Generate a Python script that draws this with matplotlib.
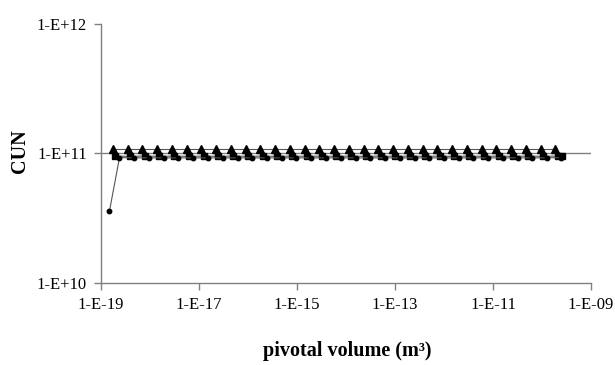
import matplotlib
matplotlib.use('Agg')
import matplotlib.pyplot as plt
from matplotlib import ticker

# pivotal volume [m3] for each series
vol_tri = [1.75e-19, 3.5e-19, 7.0e-19, 1.4e-18, 2.8e-18, 5.6e-18, 1.12e-17, 2.24e-17,
           4.48e-17, 8.96e-17, 1.79e-16, 3.58e-16, 7.17e-16, 1.43e-15, 2.87e-15, 5.73e-15,
           1.15e-14, 2.29e-14, 4.59e-14, 9.17e-14, 1.83e-13, 3.67e-13, 7.34e-13, 1.47e-12,
           2.94e-12, 5.87e-12, 1.17e-11, 2.35e-11, 4.70e-11, 9.40e-11, 1.88e-10]
vol_sq = [1.95e-19, 3.9e-19, 7.8e-19, 1.56e-18, 3.1e-18, 6.2e-18, 1.25e-17, 2.5e-17,
          5.0e-17, 1.0e-16, 2.0e-16, 4.0e-16, 8.0e-16, 1.6e-15, 3.2e-15, 6.4e-15,
          1.28e-14, 2.56e-14, 5.1e-14, 1.02e-13, 2.05e-13, 4.1e-13, 8.2e-13, 1.64e-12,
          3.3e-12, 6.6e-12, 1.31e-11, 2.62e-11, 5.2e-11, 1.05e-10, 2.1e-10, 2.55e-10]
vol_ci = [1.5e-19, 2.4e-19, 4.8e-19, 9.6e-19, 1.9e-18, 3.8e-18, 7.7e-18, 1.54e-17,
          3.1e-17, 6.2e-17, 1.23e-16, 2.46e-16, 4.9e-16, 9.8e-16, 1.97e-15, 3.9e-15,
          7.9e-15, 1.58e-14, 3.15e-14, 6.3e-14, 1.26e-13, 2.52e-13, 5.0e-13, 1.0e-12,
          2.0e-12, 4.0e-12, 8.1e-12, 1.61e-11, 3.2e-11, 6.4e-11, 1.29e-10, 2.4e-10]

# CUN values
cun_tri = [1.08e11] * 31
cun_sq = [0.955e11, 0.95e11, 0.955e11, 0.95e11, 0.955e11, 0.95e11, 0.955e11, 0.95e11,
          0.955e11, 0.95e11, 0.955e11, 0.95e11, 0.955e11, 0.95e11, 0.955e11, 0.95e11,
          0.955e11, 0.95e11, 0.955e11, 0.95e11, 0.955e11, 0.95e11, 0.955e11, 0.95e11,
          0.955e11, 0.95e11, 0.955e11, 0.95e11, 0.955e11, 0.95e11, 0.955e11, 0.96e11]
cun_ci = [3.6e10, 0.93e11, 0.925e11, 0.925e11, 0.925e11, 0.925e11, 0.925e11, 0.925e11,
          0.925e11, 0.925e11, 0.925e11, 0.925e11, 0.925e11, 0.925e11, 0.925e11, 0.925e11,
          0.925e11, 0.925e11, 0.925e11, 0.925e11, 0.925e11, 0.925e11, 0.925e11, 0.925e11,
          0.925e11, 0.925e11, 0.925e11, 0.925e11, 0.925e11, 0.925e11, 0.925e11, 0.93e11]

xticks = [1e-19, 1e-17, 1e-15, 1e-13, 1e-11, 1e-9]
xticklabels = ['1-E-19', '1-E-17', '1-E-15', '1-E-13', '1-E-11', '1-E-09']
yticks = [1e10, 1e11, 1e12]
yticklabels = ['1-E+10', '1-E+11', '1-E+12']

plt.rcParams['font.family'] = ['Liberation Serif', 'DejaVu Serif']

fig = plt.figure(figsize=(6.15, 3.65), dpi=100)
ax = fig.add_axes([0.164, 0.225, 0.797, 0.709])

axis_grey = '#808080'
line_grey = '#555555'

# gridline at the middle decade
ax.axhline(1e11, color=axis_grey, linewidth=1.0, zorder=1)

ax.plot(vol_tri, cun_tri, color=line_grey, linewidth=0.8, marker='^', markersize=5.5,
        markerfacecolor='black', markeredgecolor='black', zorder=3)
ax.plot(vol_sq, cun_sq, color=line_grey, linewidth=0.8, marker='s', markersize=4,
        markerfacecolor='black', markeredgecolor='black', zorder=3)
ax.plot(vol_ci, cun_ci, color=line_grey, linewidth=0.8, marker='o', markersize=3.2,
        markerfacecolor='black', markeredgecolor='black', zorder=4)

ax.set_xscale('log')
ax.set_yscale('log')
ax.set_xlim(1e-19, 1e-9)
ax.set_ylim(1e10, 1e12)

ax.xaxis.set_major_locator(ticker.FixedLocator(xticks))
ax.xaxis.set_major_formatter(ticker.FixedFormatter(xticklabels))
ax.xaxis.set_minor_locator(ticker.NullLocator())
ax.yaxis.set_major_locator(ticker.FixedLocator(yticks))
ax.yaxis.set_major_formatter(ticker.FixedFormatter(yticklabels))
ax.yaxis.set_minor_locator(ticker.NullLocator())

for side in ['top', 'right']:
    ax.spines[side].set_visible(False)
for side in ['left', 'bottom']:
    ax.spines[side].set_color(axis_grey)
    ax.spines[side].set_linewidth(1.0)

ax.tick_params(axis='both', direction='out', length=5, width=1.0, color=axis_grey,
               labelsize=12, labelcolor='black', pad=5)

fig.text(0.033, 0.585, 'CUN', rotation=90, fontsize=14.5, fontweight='bold',
         ha='center', va='center')
fig.text(0.565, 0.038, 'pivotal volume (m³)', fontsize=14.5, fontweight='bold',
         ha='center', va='center')

fig.savefig('out.png', dpi=100)
